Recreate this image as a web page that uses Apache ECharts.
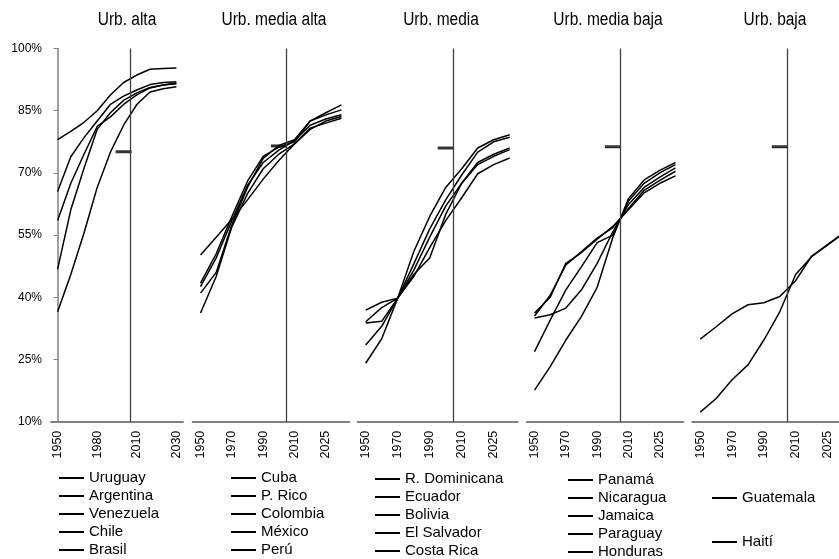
<!DOCTYPE html>
<html>
<head>
<meta charset="utf-8">
<script src="https://cdn.jsdelivr.net/npm/echarts@6/dist/echarts.min.js"></script>
<style>
  html, body { margin: 0; padding: 0; background: #fff; }
  #chart { width: 839px; height: 559px; }
</style>
</head>
<body>
<div id="chart"></div>
<script>
const years = ["1950", "1960", "1970", "1980", "1990", "2000", "2010", "2020", "2025", "2030"];
const titles = ["Urb. alta", "Urb. media alta", "Urb. media", "Urb. media baja", "Urb. baja"];

// Urb. alta
const uruguay = [78.0, 80.0, 82.2, 85.0, 88.8, 91.8, 93.6, 95.0, 95.2, 95.3];
const argentina = [65.5, 73.9, 78.5, 82.5, 86.5, 88.5, 90.0, 91.3, 91.8, 92.0];
const venezuela = [46.8, 61.1, 71.1, 80.5, 84.5, 87.5, 89.3, 90.6, 91.2, 91.5];
const chile = [58.5, 67.5, 74.5, 81.2, 83.5, 86.5, 88.8, 90.5, 91.2, 91.7];
const brasil = [36.5, 45.5, 55.5, 66.5, 75.0, 81.5, 86.5, 89.5, 90.3, 90.8];

// Urb. media alta
const cuba = [50.2, 54.5, 58.8, 63.5, 68.5, 73.0, 77.0, 80.8, 82.0, 83.2];
const pRico = [43.4, 50.5, 59.5, 68.0, 74.0, 76.2, 77.5, 82.5, 84.5, 86.4];
const colombia = [42.6, 49.5, 58.5, 67.0, 72.5, 75.5, 77.8, 81.5, 83.0, 84.0];
const mexico = [41.0, 46.0, 57.5, 66.5, 73.5, 76.6, 78.0, 82.5, 84.0, 85.2];
const peru = [36.2, 45.0, 57.0, 65.0, 71.0, 74.5, 77.0, 80.5, 82.5, 83.6];

// Urb. media
const rDominicana = [24.1, 30.0, 39.8, 45.5, 49.5, 60.0, 67.5, 72.0, 74.0, 75.6];
const ecuador = [28.5, 33.0, 39.8, 51.0, 59.5, 66.5, 71.0, 76.0, 78.0, 79.2];
const bolivia = [33.8, 34.2, 39.8, 48.0, 56.5, 63.5, 69.5, 75.0, 77.5, 78.6];
const elSalvador = [34.1, 37.5, 39.8, 46.5, 54.5, 62.0, 67.5, 72.5, 74.5, 76.0];
const costaRica = [36.9, 38.8, 39.8, 45.0, 52.0, 58.5, 64.0, 69.8, 72.0, 73.6];

// Urb. media baja
const panama = [36.2, 40.0, 48.2, 50.8, 54.0, 57.1, 61.1, 65.2, 67.5, 69.3];
const nicaragua = [35.5, 40.5, 47.8, 51.0, 54.3, 56.8, 61.4, 65.8, 68.2, 70.4];
const jamaica = [35.0, 35.8, 37.4, 41.8, 48.2, 55.8, 62.4, 66.5, 69.0, 71.2];
const paraguay = [26.9, 34.5, 41.8, 47.4, 53.2, 55.0, 63.2, 67.5, 70.0, 72.0];
const honduras = [17.6, 23.3, 29.7, 35.4, 42.4, 54.4, 63.8, 68.3, 70.6, 72.5];

// Urb. baja
const guatemala = [29.9, 32.9, 36.0, 38.2, 38.7, 40.2, 44.0, 49.9, 52.7, 55.5];
const haiti = [12.3, 15.6, 20.1, 23.7, 29.7, 36.5, 45.5, 49.8, 52.6, 55.4];

// marca corta de referencia (promedio regional)
const promedio = [75.1, 76.5, 76.0, 76.3, 76.3];

const groups = [
  { names: ["Uruguay", "Argentina", "Venezuela", "Chile", "Brasil"], values: [uruguay, argentina, venezuela, chile, brasil] },
  { names: ["Cuba", "P. Rico", "Colombia", "México", "Perú"], values: [cuba, pRico, colombia, mexico, peru] },
  { names: ["R. Dominicana", "Ecuador", "Bolivia", "El Salvador", "Costa Rica"], values: [rDominicana, ecuador, bolivia, elSalvador, costaRica] },
  { names: ["Panamá", "Nicaragua", "Jamaica", "Paraguay", "Honduras"], values: [panama, nicaragua, jamaica, paraguay, honduras] },
  { names: ["Guatemala", "Haití"], values: [guatemala, haiti] }
];

const font = "'Liberation Sans', Arial, sans-serif";
const gridPos = [
  { left: 51, width: 132 },
  { left: 192.7, width: 156.6 },
  { left: 357.7, width: 160 },
  { left: 526.7, width: 156.6 },
  { left: 692.3, width: 159 }
];
const titleX = [127, 274, 441, 608, 775];
const legendPos = [
  { left: 54, top: 465, gap: 2 },
  { left: 226, top: 465, gap: 2 },
  { left: 370, top: 466, gap: 2 },
  { left: 563, top: 467, gap: 2 },
  { left: 707, top: 485, gap: 28 }
];
const crossAt = years.indexOf("2010") - 0.5;

const chart = echarts.init(document.getElementById("chart"));

let grid = [], xAxis = [], yAxis = [], legend = [], series = [], graphic = [];

groups.forEach(function(g, i) {
  grid.push({
    left: gridPos[i].left,
    width: gridPos[i].width,
    top: 48.5,
    height: 373.2,
    outerBoundsMode: "none",
    containLabel: false
  });
  xAxis.push({
    type: "category",
    gridIndex: i,
    data: years,
    boundaryGap: true,
    axisLine: { lineStyle: { color: "#808080", width: 2 } },
    axisTick: { show: false },
    axisLabel: {
      rotate: 90,
      interval: i === 0 ? 2 : 1,
      fontSize: 12.5,
      fontFamily: font,
      color: "#000",
      margin: 9
    }
  });
  yAxis.push(i === 0 ? {
    type: "value",
    gridIndex: 0,
    min: 10,
    max: 100,
    interval: 15,
    axisLine: { show: true, lineStyle: { color: "#808080", width: 1.5 } },
    axisTick: { show: true, length: 4, lineStyle: { color: "#808080" } },
    splitLine: { show: false },
    axisLabel: { formatter: "{value}%", fontSize: 12, fontFamily: font, color: "#000", margin: 9 }
  } : {
    type: "value",
    gridIndex: i,
    min: 10,
    max: 100,
    interval: 15,
    show: false,
    splitLine: { show: false }
  });

  legend.push({
    data: g.names,
    orient: "vertical",
    left: legendPos[i].left,
    top: legendPos[i].top,
    height: 150,
    itemGap: legendPos[i].gap,
    icon: "rect",
    itemWidth: 25,
    itemHeight: 2,
    selectedMode: false,
    textStyle: { fontSize: 15, lineHeight: 16, fontFamily: font, color: "#000" }
  });

  g.names.forEach(function(name, j) {
    series.push({
      type: "line",
      name: name,
      xAxisIndex: i,
      yAxisIndex: i,
      data: g.values[j],
      symbol: "none",
      lineStyle: { color: "#000", width: 1.5 },
      itemStyle: { color: "#000" },
      emphasis: { disabled: true },
      animation: false
    });
  });

  graphic.push({
    type: "text",
    x: titleX[i],
    y: 20,
    scaleX: 0.86,
    style: {
      text: titles[i],
      font: "18px " + font,
      fill: "#000",
      textAlign: "center",
      textVerticalAlign: "middle"
    }
  });
});

// ejes auxiliares (valor) para la línea vertical y la marca corta
groups.forEach(function(g, i) {
  xAxis.push({
    type: "value",
    gridIndex: i,
    min: -0.5,
    max: years.length - 0.5,
    show: false
  });
  series.push({
    type: "scatter",
    xAxisIndex: groups.length + i,
    yAxisIndex: i,
    data: [[years.indexOf("2000"), promedio[i]]],
    symbol: "rect",
    symbolSize: [16, 3],
    itemStyle: { color: "#000" },
    silent: true,
    animation: false,
    markLine: {
      silent: true,
      symbol: "none",
      animation: false,
      label: { show: false },
      lineStyle: { color: "#404040", width: 1.3, type: "solid" },
      emphasis: { disabled: true },
      data: [{ xAxis: crossAt }]
    }
  });
});

chart.setOption({
  animation: false,
  backgroundColor: "#fff",
  grid: grid,
  xAxis: xAxis,
  yAxis: yAxis,
  legend: legend,
  series: series,
  graphic: graphic
});
</script>
</body>
</html>
